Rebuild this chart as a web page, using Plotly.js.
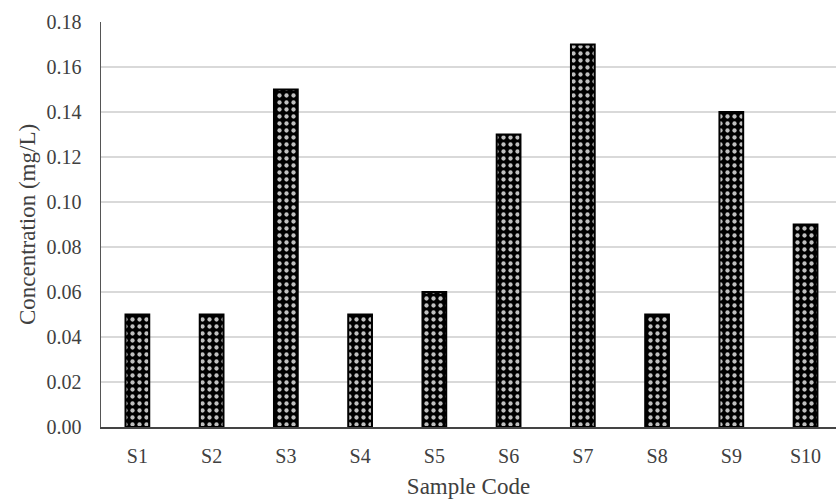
<!DOCTYPE html>
<html>
<head>
<meta charset="utf-8">
<script src="https://cdn.plot.ly/plotly-3.0.1.min.js"></script>
<style>html,body{margin:0;padding:0;background:#fff;}#chart{width:836px;height:500px;}</style>
</head>
<body>
<div id="chart"></div>
<script>
const categories = ["S1","S2","S3","S4","S5","S6","S7","S8","S9","S10"];
const concentration = [0.05,0.05,0.15,0.05,0.06,0.13,0.17,0.05,0.14,0.09];
const yTicks = [0,0.02,0.04,0.06,0.08,0.10,0.12,0.14,0.16,0.18];

const trace = {
  type: "bar",
  x: categories,
  y: concentration,
  marker: {
    color: "#000",
    line: {color: "#000", width: 2},
    pattern: {shape: ".", bgcolor: "#000", fgcolor: "#c0c0c0", size: 7, solidity: 0.3, fillmode: "replace"}
  },
  hoverinfo: "skip"
};

const layout = {
  width: 836, height: 500,
  margin: {l: 101, r: 0, t: 22, b: 73},
  paper_bgcolor: "#fff", plot_bgcolor: "#fff",
  bargap: 0.68,
  showlegend: false,
  font: {family: "Liberation Serif, Times New Roman, serif", color: "#404040", size: 20},
  xaxis: {
    range: [-0.49, 9.41],
    showline: true, linecolor: "#444", linewidth: 1.5,
    showgrid: false, ticks: "", tickfont: {size: 20}, ticklabelstandoff: 10,
    title: {text: "Sample Code", font: {size: 23}, standoff: 12}
  },
  yaxis: {
    range: [0, 0.18], tickvals: yTicks, ticktext: yTicks.map(v => v.toFixed(2)),
    showline: true, linecolor: "#555", linewidth: 1.5,
    showgrid: true, gridcolor: "#d9d9d9", gridwidth: 1.5,
    zeroline: false, ticks: "", tickfont: {size: 20}, ticklabelstandoff: 14,
    title: {text: "Concentration (mg/L)", font: {size: 23}, standoff: 4}
  }
};

Plotly.newPlot("chart", [trace], layout, {displayModeBar: false, staticPlot: true});
</script>
</body>
</html>
